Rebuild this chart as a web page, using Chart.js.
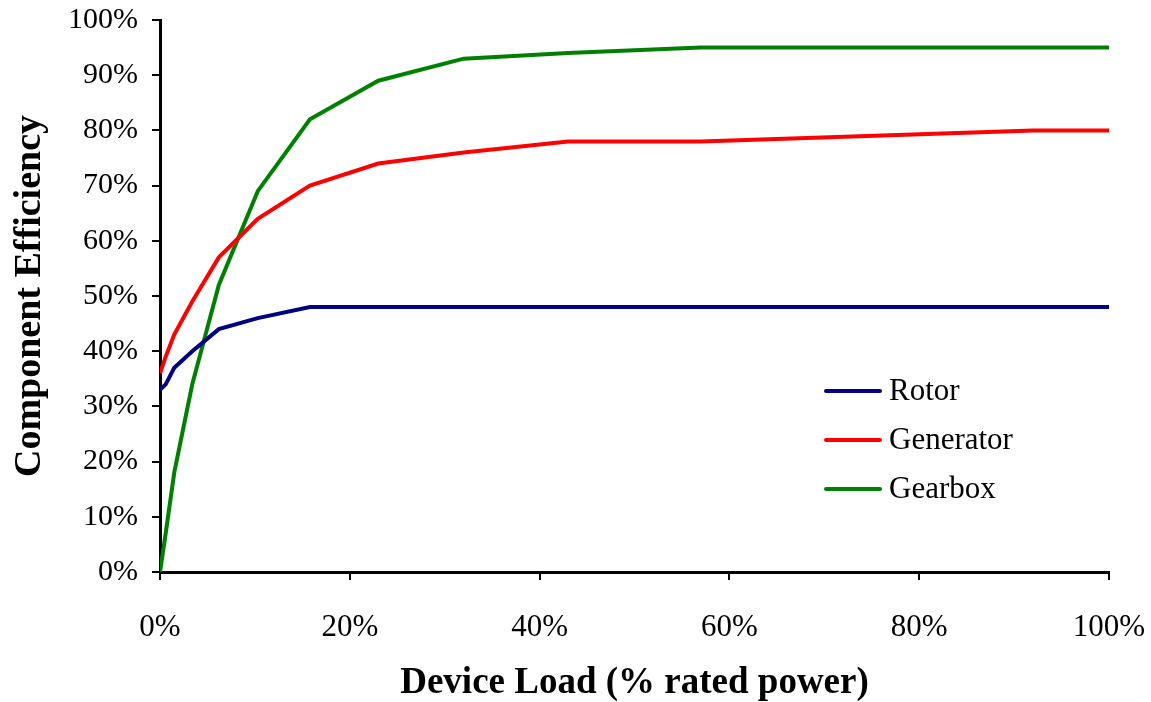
<!DOCTYPE html>
<html>
<head>
<meta charset="utf-8">
<title>Component Efficiency vs Device Load</title>
<script src="https://cdn.jsdelivr.net/npm/chart.js@4.4.1/dist/chart.umd.min.js"></script>
<style>
    html, body { margin: 0; padding: 0; background: #ffffff; }
    #wrap { width: 1151px; height: 702px; position: relative; }
</style>
</head>
<body>
<div id="wrap"><canvas id="effChart" width="1151" height="702"></canvas></div>
<script>
// Device load (% of rated power) at each point
const loadPoints = [0, 0.6, 1.5, 3.4, 6.2, 10.3, 15.8, 23, 32, 43, 57, 92, 100];

// Component efficiency (%) at each load point
const rotorEff     = [33, 34, 37, 40, 44, 46, 48, 48, 48, 48, 48, 48, 48];
const generatorEff = [36, 39, 43, 49, 57, 64, 70, 74, 76, 78, 78, 80, 80];
const gearboxEff   = [0, 7, 18, 34, 52, 69, 82, 89, 93, 94, 95, 95, 95];

const seriesNames  = ['Rotor', 'Generator', 'Gearbox'];
const seriesColors = ['#000080', '#FF0000', '#008000'];

const FONT = '"Liberation Serif", "Times New Roman", serif';

/**
 * Pair load points with a series of values
 */
function toPoints(values) {
    return loadPoints.map(function(x, i) {
        return { x: x, y: values[i] };
    });
}

/**
 * Legend drawn inside the plot area, like the original
 */
const insideLegend = {
    id: 'insideLegend',
    afterDraw: function(chart) {
        const ctx = chart.ctx;
        const area = chart.chartArea;
        const x0 = area.left + 666;
        const y0 = area.top + 371;
        ctx.save();
        ctx.font = '31px ' + FONT;
        ctx.textBaseline = 'middle';
        chart.data.datasets.forEach(function(ds, i) {
            const y = y0 + i * 49;
            ctx.strokeStyle = ds.borderColor;
            ctx.lineWidth = 4;
            ctx.lineCap = 'round';
            ctx.beginPath();
            ctx.moveTo(x0, y);
            ctx.lineTo(x0 + 54, y);
            ctx.stroke();
            ctx.fillStyle = '#000';
            ctx.fillText(ds.label, x0 + 63, y + 1);
        });
        ctx.restore();
    }
};

const series = [rotorEff, generatorEff, gearboxEff];

new Chart(document.getElementById('effChart'), {
    type: 'line',
    data: {
        datasets: series.map(function(vals, i) {
            return {
                label: seriesNames[i],
                data: toPoints(vals),
                borderColor: seriesColors[i],
                backgroundColor: seriesColors[i],
                borderWidth: 4,
                pointRadius: 0,
                tension: 0,
                fill: false
            };
        })
    },
    options: {
        responsive: false,
        animation: false,
        layout: { padding: { top: 20, right: 42, bottom: 0, left: 0 } },
        plugins: {
            legend: { display: false },
            tooltip: { enabled: false }
        },
        scales: {
            x: {
                type: 'linear',
                min: 0,
                max: 100,
                ticks: {
                    stepSize: 20,
                    color: '#000',
                    font: { family: FONT, size: 31 },
                    padding: 29,
                    maxRotation: 0,
                    callback: function(v) { return v + '%'; }
                },
                grid: { drawOnChartArea: false, drawTicks: true, tickLength: 8, color: '#000', lineWidth: 2 },
                border: { display: true, color: '#000', width: 3 },
                title: {
                    display: true,
                    text: 'Device Load (% rated power)',
                    color: '#000',
                    font: { family: FONT, size: 37, weight: 'bold', lineHeight: 1.0 },
                    padding: { top: 10, bottom: 0 }
                },
                afterFit: function(scale) {
                    scale.height = 130;
                    // let the end labels hang past the plot edges
                    scale.paddingLeft = 0;
                    scale.paddingRight = 0;
                }
            },
            y: {
                min: 0,
                max: 100,
                ticks: {
                    stepSize: 10,
                    color: '#000',
                    font: { family: FONT, size: 30 },
                    padding: 14,
                    callback: function(v) { return v + '%'; }
                },
                grid: { drawOnChartArea: false, drawTicks: true, tickLength: 8, color: '#000', lineWidth: 2 },
                border: { display: true, color: '#000', width: 3 },
                title: {
                    display: true,
                    text: 'Component Efficiency',
                    color: '#000',
                    font: { family: FONT, size: 38, weight: 'bold', lineHeight: 1.2 },
                    padding: { top: 7, bottom: 0 }
                },
                afterFit: function(scale) {
                    scale.width = 160;
                    scale.paddingTop = 0;
                    scale.paddingBottom = 0;
                }
            }
        }
    },
    plugins: [insideLegend]
});
</script>
</body>
</html>
